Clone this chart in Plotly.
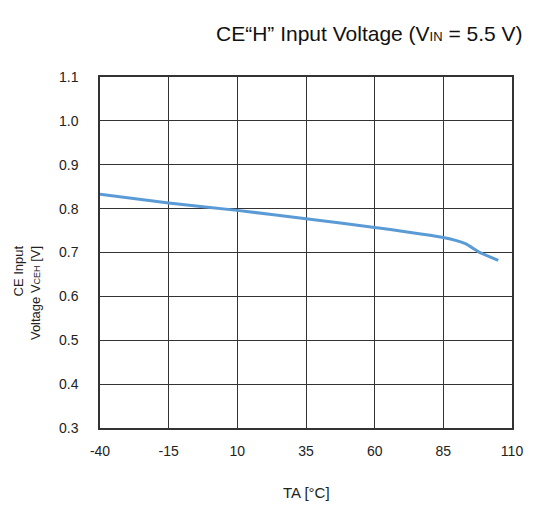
import plotly.graph_objects as go

temps = [-40, -15, 10, 35, 60, 85, 93, 98, 105]
vcen = [0.833, 0.813, 0.796, 0.777, 0.757, 0.734, 0.720, 0.701, 0.682]
x_ticks = [-40, -15, 10, 35, 60, 85, 110]
y_ticks = [0.3, 0.4, 0.5, 0.6, 0.7, 0.8, 0.9, 1.0, 1.1]

W, H = 535, 505
L, R, T, B = 100, 17, 77, 77
pw, ph = W - L - R, H - T - B

def px(x):
    return (x - L) / pw

def py(y):
    return (H - B - y) / ph

fig = go.Figure()
fig.add_trace(go.Scatter(x=temps, y=vcen, mode="lines",
                         line=dict(color="#5b9bd5", width=3, shape="spline", smoothing=0.6),
                         hoverinfo="skip", showlegend=False))

font = "Liberation Sans, Arial, sans-serif"
fig.update_layout(
    width=W, height=H,
    margin=dict(l=L, r=R, t=T, b=B),
    paper_bgcolor="white", plot_bgcolor="white",
    font=dict(family=font, color="#222222", size=14),
    xaxis=dict(range=[-40, 110], tickvals=x_ticks, ticktext=[str(v) for v in x_ticks],
               showgrid=True, gridcolor="#333333", gridwidth=1.2,
               showline=True, linecolor="#333333", linewidth=1.5, mirror=True,
               zeroline=False, ticks="", ticklabelstandoff=9,
               tickfont=dict(size=14, color="#222222")),
    yaxis=dict(range=[0.3, 1.1], tickvals=y_ticks, ticktext=[f"{v:.1f}" for v in y_ticks],
               showgrid=True, gridcolor="#333333", gridwidth=1.2,
               showline=True, linecolor="#333333", linewidth=1.5, mirror=True,
               zeroline=False, ticks="", ticklabelstandoff=17,
               tickfont=dict(size=14, color="#222222")),
    annotations=[
        dict(text="CE“H” Input Voltage (V<span style='font-size:13px'>IN</span> = 5.5 V)",
             x=px(373), y=py(33),
             xref="paper", yref="paper", showarrow=False, xanchor="center", yanchor="middle",
             font=dict(size=21, color="#111111", family=font)),
        dict(text="TA [°C]", x=px(309), y=py(492), xref="paper", yref="paper",
             showarrow=False, xanchor="center", yanchor="middle",
             font=dict(size=15, color="#222222", family=font)),
        dict(text="CE Input<br>Voltage V<span style='font-size:9px'>CEH</span> [V]",
             x=px(26), y=py(293),
             xref="paper", yref="paper", showarrow=False, textangle=-90, align="right",
             xanchor="center", yanchor="middle",
             font=dict(size=13, color="#222222", family=font)),
    ],
)

fig.write_html("out.html", config={"displayModeBar": False},
               post_script="document.body.style.margin='0';")
